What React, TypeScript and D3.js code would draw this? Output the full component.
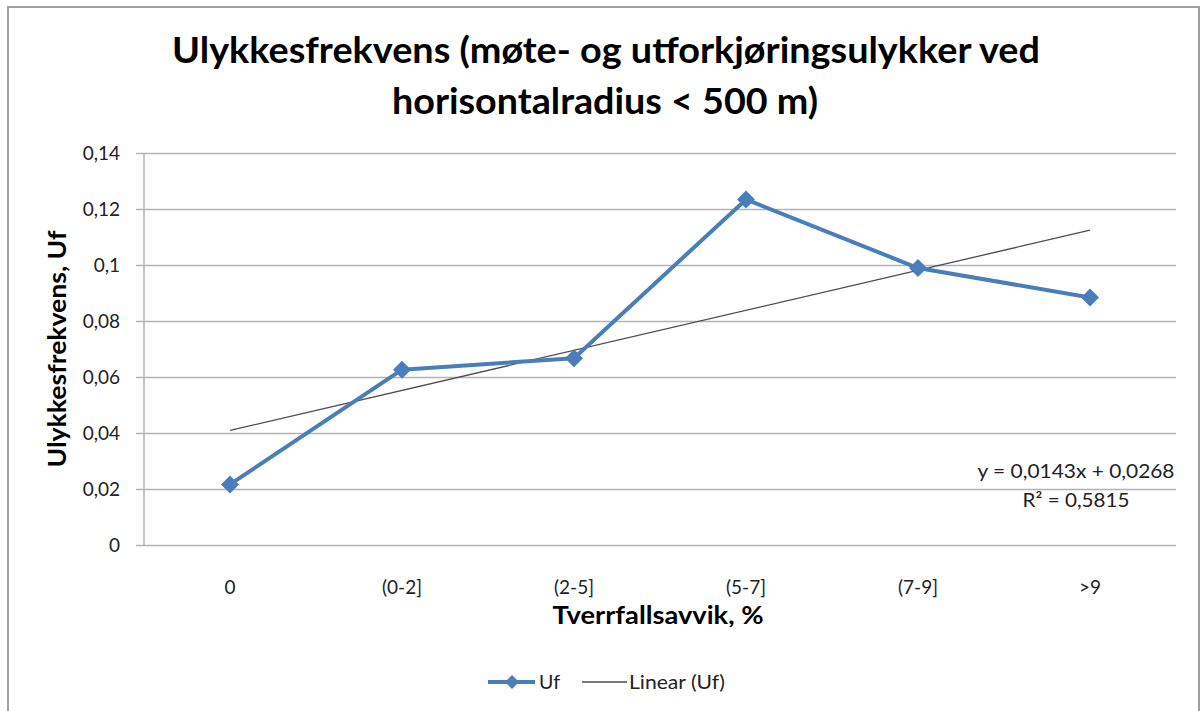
import React from "react";
import * as d3 from "d3";

const categories = ["0", "(0-2]", "(2-5]", "(5-7]", "(7-9]", ">9"];
const ufValues = [0.0218, 0.0628, 0.0669, 0.1236, 0.0991, 0.0886];
const yTicks = [0, 0.02, 0.04, 0.06, 0.08, 0.1, 0.12, 0.14];
const trendSlope = 0.0143;
const trendIntercept = 0.0268;
const titleLines = [
  "Ulykkesfrekvens (møte- og utforkjøringsulykker ved",
  "horisontalradius < 500 m)",
];
const yTitle = "Ulykkesfrekvens, Uf";
const xTitle = "Tverrfallsavvik, %";
const eqLines = ["y = 0,0143x + 0,0268", "R² = 0,5815"];
const legendLabels = ["Uf", "Linear (Uf)"];

const W = 1200;
const H = 711;
const FONT = "Lato, 'Open Sans', sans-serif";
const BLUE = "#4a7ebb";

const locale = d3.formatLocale({
  decimal: ",",
  thousands: " ",
  grouping: [3],
  currency: ["", " kr"],
});
const fmt = locale.format("~g");

export default function App() {
  const left = 144;
  const right = 1176;
  const top = 153.5;
  const bottom = 545.5;

  const x = d3.scalePoint<string>().domain(categories).range([left, right]).padding(0.5);
  const y = d3.scaleLinear().domain([0, 0.14]).range([bottom, top]);
  const xIdx = d3
    .scaleLinear()
    .domain([1, categories.length])
    .range([x(categories[0]) as number, x(categories[categories.length - 1]) as number]);

  const line = d3
    .line<number>()
    .x((_, i) => x(categories[i]) as number)
    .y((d) => y(d));

  const trendPts = [1, categories.length].map((i) => [xIdx(i), y(trendSlope * i + trendIntercept)] as [number, number]);
  const trendPath = d3.line()(trendPts) as string;

  const diamond = (cx: number, cy: number, r: number) =>
    `M${cx},${cy - r}L${cx + r},${cy}L${cx},${cy + r}L${cx - r},${cy}Z`;

  return (
    <svg
      width={W}
      height={H}
      style={{ position: "absolute", left: 0, top: 0, background: "#fff" }}
      fontFamily={FONT}
    >
      <rect x={0} y={0} width={W} height={H} fill="#fff" />
      <rect x={8} y={7} width={1191} height={720} fill="none" stroke="#a0a0a0" strokeWidth={2} />

      {/* title */}
      <text x={606} y={63} textAnchor="middle" fontSize={37} fontWeight="bold" fill="#000" textLength={868} lengthAdjust="spacingAndGlyphs">
        {titleLines[0]}
      </text>
      <text x={605} y={114} textAnchor="middle" fontSize={37} fontWeight="bold" fill="#000" textLength={426} lengthAdjust="spacingAndGlyphs">
        {titleLines[1]}
      </text>

      {/* gridlines */}
      {yTicks.map((t) => (
        <g key={t}>
          <line x1={136} x2={right} y1={y(t)} y2={y(t)} stroke="#b3b3b3" strokeWidth={1.5} />
          <text x={120} y={y(t)} dy="0.35em" textAnchor="end" fontSize={19} fill="#222">
            {fmt(t)}
          </text>
        </g>
      ))}
      <line x1={left} x2={left} y1={top} y2={bottom} stroke="#b3b3b3" strokeWidth={1.5} />

      {/* x labels */}
      {categories.map((c) => (
        <text key={c} x={x(c) as number} y={594} textAnchor="middle" fontSize={19} fill="#222">
          {c}
        </text>
      ))}

      {/* axis titles */}
      <text x={658} y={624} textAnchor="middle" fontSize={25} fontWeight="bold" fill="#000" textLength={211} lengthAdjust="spacingAndGlyphs">
        {xTitle}
      </text>
      <text
        transform={`translate(66,349) rotate(-90)`}
        textAnchor="middle"
        fontSize={25}
        fontWeight="bold"
        fill="#000"
        textLength={237}
        lengthAdjust="spacingAndGlyphs"
      >
        {yTitle}
      </text>

      {/* trend line */}
      <path d={trendPath} fill="none" stroke="#4d4d4d" strokeWidth={1.3} />

      {/* series */}
      <path d={line(ufValues) as string} fill="none" stroke={BLUE} strokeWidth={4} strokeLinejoin="round" />
      {ufValues.map((v, i) => (
        <path key={i} d={diamond(x(categories[i]) as number, y(v), 9)} fill={BLUE} />
      ))}

      {/* equation */}
      <text x={1076} y={478} textAnchor="middle" fontSize={19} fill="#222" textLength={197} lengthAdjust="spacingAndGlyphs">
        {eqLines[0]}
      </text>
      <text x={1076} y={507} textAnchor="middle" fontSize={19} fill="#222" textLength={107} lengthAdjust="spacingAndGlyphs">
        {eqLines[1]}
      </text>

      {/* legend */}
      <line x1={488} x2={535} y1={682} y2={682} stroke={BLUE} strokeWidth={4} />
      <path d={diamond(512, 682, 7)} fill={BLUE} />
      <text x={539} y={682} dy="0.35em" fontSize={19} fill="#222" textLength={21} lengthAdjust="spacingAndGlyphs">
        {legendLabels[0]}
      </text>
      <line x1={582} x2={627} y1={682} y2={682} stroke="#4d4d4d" strokeWidth={1.3} />
      <text x={629} y={682} dy="0.35em" fontSize={19} fill="#222" textLength={96} lengthAdjust="spacingAndGlyphs">
        {legendLabels[1]}
      </text>
    </svg>
  );
}
